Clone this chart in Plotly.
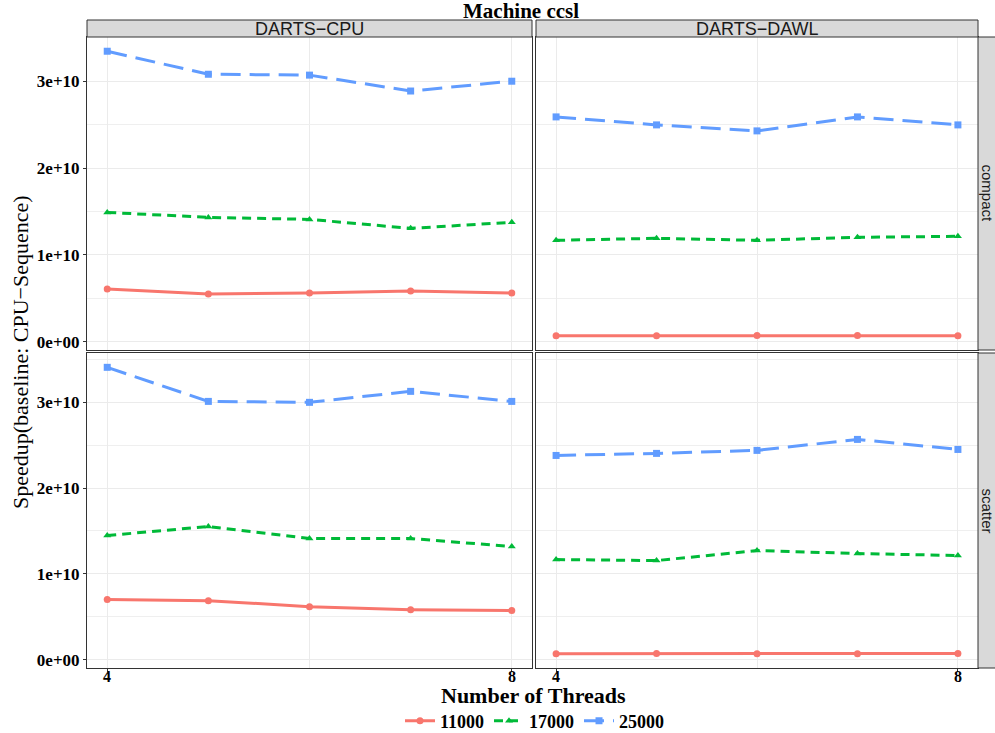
import plotly.graph_objects as go

# Threads on the x axis
threads = [4, 5, 6, 7, 8]
sizes = ["11000", "17000", "25000"]

# Speedup values per facet (rows: affinity, cols: runtime)
compact_cpu_11000 = [0.607e10, 0.550e10, 0.561e10, 0.584e10, 0.561e10]
compact_cpu_17000 = [1.489e10, 1.432e10, 1.409e10, 1.306e10, 1.375e10]
compact_cpu_25000 = [3.345e10, 3.080e10, 3.070e10, 2.887e10, 3.000e10]

compact_dawl_11000 = [0.070e10, 0.069e10, 0.072e10, 0.071e10, 0.070e10]
compact_dawl_17000 = [1.168e10, 1.191e10, 1.168e10, 1.203e10, 1.214e10]
compact_dawl_25000 = [2.589e10, 2.497e10, 2.428e10, 2.589e10, 2.497e10]

scatter_cpu_11000 = [0.700e10, 0.688e10, 0.618e10, 0.583e10, 0.572e10]
scatter_cpu_17000 = [1.447e10, 1.552e10, 1.412e10, 1.412e10, 1.319e10]
scatter_cpu_25000 = [3.407e10, 3.010e10, 2.999e10, 3.127e10, 3.010e10]

scatter_dawl_11000 = [0.070e10, 0.071e10, 0.069e10, 0.070e10, 0.071e10]
scatter_dawl_17000 = [1.167e10, 1.155e10, 1.272e10, 1.237e10, 1.214e10]
scatter_dawl_25000 = [2.380e10, 2.404e10, 2.439e10, 2.567e10, 2.450e10]

col_labels = ["DARTS\u2212CPU", "DARTS\u2212DAWL"]
row_labels = ["compact", "scatter"]
y_tick_vals = [0, 1e10, 2e10, 3e10]
y_tick_text = ["0e+00", "1e+10", "2e+10", "3e+10"]
x_tick_vals = [4, 8]
x_tick_text = ["4", "8"]

panels = [
    # (axis index, row, col, series)
    (1, 0, 0, [compact_cpu_11000, compact_cpu_17000, compact_cpu_25000]),
    (2, 0, 1, [compact_dawl_11000, compact_dawl_17000, compact_dawl_25000]),
    (3, 1, 0, [scatter_cpu_11000, scatter_cpu_17000, scatter_cpu_25000]),
    (4, 1, 1, [scatter_dawl_11000, scatter_dawl_17000, scatter_dawl_25000]),
]

colors = ["#F8766D", "#00BA38", "#619CFF"]
dashes = ["solid", "9px,6px", "20px,9px"]
symbols = ["circle", "triangle-up", "square"]

W, H = 995, 733
def px(x):
    return x / W
def py(y):
    return 1 - y / H

col_dom = [[px(87), px(532)], [px(536), px(978)]]
row_dom = [[py(350), py(37)], [py(668), py(353)]]
row_range = [[-0.095e10, 3.509e10], [-0.097e10, 3.574e10]]

serif = "Liberation Serif"
sans = "Liberation Sans"

fig = go.Figure()
for idx, r, c, series in panels:
    xa = "x" if idx == 1 else f"x{idx}"
    ya = "y" if idx == 1 else f"y{idx}"
    for k, vals in enumerate(series):
        fig.add_trace(go.Scatter(
            x=threads, y=vals, xaxis=xa, yaxis=ya,
            mode="lines+markers", name=sizes[k],
            legendgroup=sizes[k], showlegend=(idx == 1),
            line=dict(color=colors[k], width=3, dash=dashes[k]),
            marker=dict(color=colors[k], symbol=symbols[k], size=7),
        ))

layout = dict(
    width=W, height=H,
    margin=dict(l=0, r=0, t=0, b=0, autoexpand=False),
    paper_bgcolor="white", plot_bgcolor="white",
    showlegend=True,
    legend=dict(orientation="h", x=px(535), y=py(721), xanchor="center", yanchor="middle",
                font=dict(family=serif, size=18, color="black", weight="bold"),
                itemwidth=30, tracegroupgap=0),
)

tick_font = dict(family=serif, size=17, color="black", weight="bold")
annotations = []

for idx, r, c, _ in panels:
    xk = "xaxis" if idx == 1 else f"xaxis{idx}"
    yk = "yaxis" if idx == 1 else f"yaxis{idx}"
    ya = "y" if idx == 1 else f"y{idx}"
    xa = "x" if idx == 1 else f"x{idx}"
    layout[xk] = dict(
        domain=col_dom[c], anchor=ya, range=[3.8, 8.2],
        tickvals=x_tick_vals, ticktext=x_tick_text,
        showticklabels=False, ticks="outside" if r == 1 else "",
        ticklen=3, tickcolor="#333333",
        showgrid=True, gridcolor="#EBEBEB", gridwidth=1,
        minor=dict(tickvals=[6], showgrid=True, gridcolor="#EBEBEB", gridwidth=1),
        showline=True, mirror=True, linecolor="#333333", linewidth=1,
        zeroline=False,
    )
    if r == 1:
        # x tick labels placed just under the bottom panels
        for v, t in zip(x_tick_vals, x_tick_text):
            annotations.append(dict(text=t, xref=xa, yref="paper", x=v, y=py(676),
                                    xanchor="center", yanchor="middle", showarrow=False,
                                    font=dict(family=serif, size=16, color="black", weight="bold")))
    layout[yk] = dict(
        domain=row_dom[r], anchor=xa, range=row_range[r],
        tickvals=y_tick_vals, ticktext=y_tick_text,
        showticklabels=(c == 0), ticks="outside" if c == 0 else "",
        ticklen=3, tickcolor="#333333",
        tickfont=tick_font,
        showgrid=True, gridcolor="#EBEBEB", gridwidth=1,
        minor=dict(tickvals=[0.5e10, 1.5e10, 2.5e10, 3.5e10], showgrid=True,
                   gridcolor="#EFEFEF", gridwidth=0.6),
        showline=True, mirror=True, linecolor="#333333", linewidth=1,
        zeroline=False,
    )

shapes = []
# Column strips across the top
for c, lab in enumerate(col_labels):
    shapes.append(dict(type="rect", xref="paper", yref="paper",
                       x0=col_dom[c][0], x1=col_dom[c][1], y0=py(37), y1=py(20),
                       fillcolor="#D9D9D9", line=dict(color="#333333", width=1)))
    annotations.append(dict(text=lab, xref="paper", yref="paper",
                            x=(col_dom[c][0] + col_dom[c][1]) / 2, y=py(28.5),
                            xanchor="center", yanchor="middle", showarrow=False,
                            font=dict(family=sans, size=18, color="#1A1A1A")))
# Row strips on the right
for r, lab in enumerate(row_labels):
    shapes.append(dict(type="rect", xref="paper", yref="paper",
                       x0=px(978), x1=px(1000), y0=row_dom[r][0], y1=row_dom[r][1],
                       fillcolor="#D9D9D9", line=dict(color="#333333", width=1)))
    annotations.append(dict(text=lab, xref="paper", yref="paper",
                            x=px(987), y=(row_dom[r][0] + row_dom[r][1]) / 2,
                            xanchor="center", yanchor="middle", showarrow=False,
                            textangle=90,
                            font=dict(family=sans, size=15, color="#1A1A1A")))

annotations.append(dict(text="Machine ccsl", xref="paper", yref="paper",
                        x=px(521), y=py(11), xanchor="center", yanchor="middle",
                        showarrow=False,
                        font=dict(family=serif, size=21, color="black", weight="bold")))
annotations.append(dict(text="Number of Threads", xref="paper", yref="paper",
                        x=px(533), y=py(695), xanchor="center", yanchor="middle",
                        showarrow=False,
                        font=dict(family=serif, size=22, color="black", weight="bold")))
annotations.append(dict(text="Speedup(baseline: CPU\u2212Sequence)", xref="paper", yref="paper",
                        x=px(20), y=py(352), xanchor="center", yanchor="middle",
                        showarrow=False, textangle=-90,
                        font=dict(family=serif, size=22, color="black")))

layout["shapes"] = shapes
layout["annotations"] = annotations
fig.update_layout(**layout)
fig.write_html("out.html")
